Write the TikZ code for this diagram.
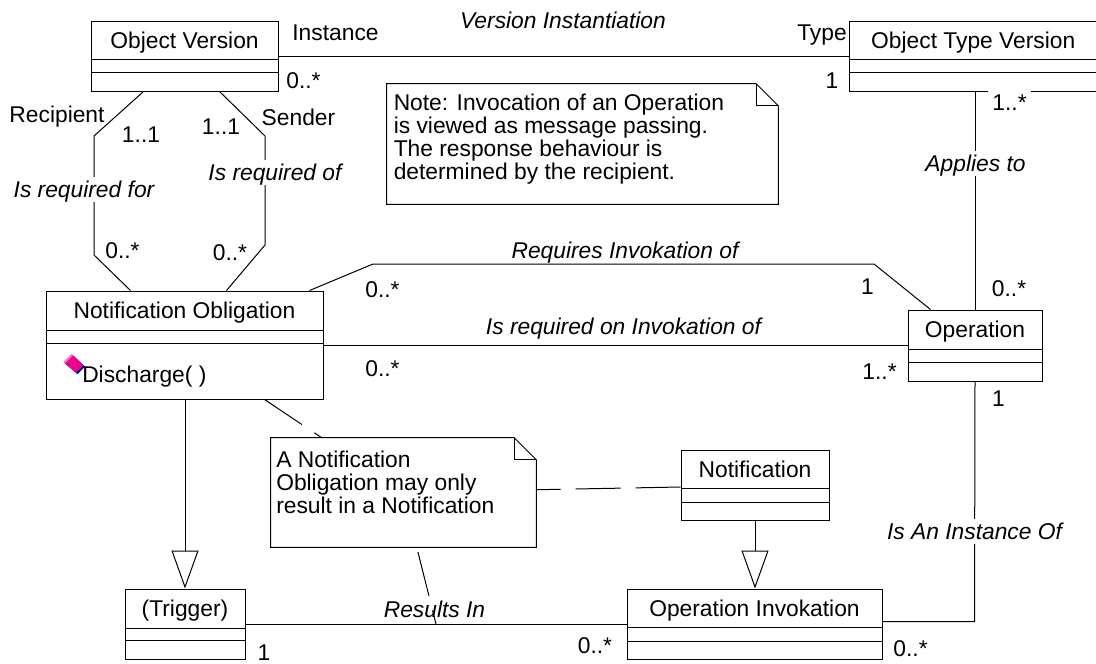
\documentclass[tikz,border=0pt]{standalone}
\usepackage{fontspec}
\setmainfont{Liberation Sans}
\usetikzlibrary{arrows.meta,calc,fit}

% UML class: name, x1, y1, x2, y2, title, first separator y, second separator y
\newcommand\umlclass[8]{%
  \coordinate (#1-nw) at (#2,#3);
  \coordinate (#1-se) at (#4,#5);
  \node[classbox, fit=(#1-nw)(#1-se)] (#1) {};
  \node[lbl] (#1-name) at ($(#2,#3)!0.5!(#4,#7)$) {#6};
  \draw[assoc] (#2,#7) -- (#4,#7);
  \draw[assoc] (#2,#8) -- (#4,#8);
}
% UML note with folded corner: name, x1, y1, x2, y2
\newcommand\umlnote[5]{%
  \coordinate (#1-nw) at (#2,#3);
  \coordinate (#1-se) at (#4,#5);
  \node[inner sep=0pt, fit=(#1-nw)(#1-se)] (#1) {};
  \draw[assoc] (#1.north west) -- ($(#1.north east)+(-22,0)$) -- ($(#1.north east)+(0,22)$)
    -- (#1.south east) -- (#1.south west) -- cycle;
  \draw[assoc] ($(#1.north east)+(-22,0)$) |- ($(#1.north east)+(0,22)$);
}

\begin{document}
\begin{tikzpicture}[x=0.75pt,y=-0.75pt,
  classbox/.style={draw, inner sep=0pt, line width=0.75pt},
  assoc/.style={line width=0.75pt},
  lbl/.style={font=\fontsize{17.1}{17.5}\selectfont, inner sep=3pt, text height=12.2pt, text depth=0pt},
  lblw/.style={lbl, fill=white},
  ilbl/.style={lbl, font=\fontsize{17.1}{17.5}\selectfont\itshape},
  ilblw/.style={ilbl, fill=white},
  notetext/.style={font=\fontsize{17.1}{16.5}\selectfont, inner sep=0pt, anchor=base west},
  anchorline/.style={line width=0.75pt, dash pattern=on 33.75pt off 11.25pt},
  gen/.style={line width=0.75pt, -{Triangle[fill=white, length=28.5pt, width=20.25pt]}}
]
\fill[white] (0,0) rectangle (1096,664);
\useasboundingbox (0,0) rectangle (1096,664);

% classes
\umlclass{ov}{91}{21}{278}{91}{Object Version}{59}{72}
\umlclass{otv}{849}{21}{1097.5}{91}{Object Type Version}{59}{72}
\umlclass{no}{46}{291}{323}{399}{Notification Obligation}{330}{343}
\umlclass{op}{908}{310}{1042}{381}{Operation}{349}{362}
\umlclass{notif}{681}{450}{829}{520}{Notification}{488}{502}
\umlclass{oi}{627}{589}{882}{659}{Operation Invokation}{627}{641}
\umlclass{trig}{125}{589}{245}{659}{(Trigger)}{628}{640}

% operation of Notification Obligation (public operation icon)
\fill[blue!45!black] (65,363.5) -- (73,355.5) -- (85,366.5) -- (77.5,374) -- cycle;
\fill[magenta] (63.5,362) -- (71.5,354) -- (83.5,365) -- (76,372.5) -- cycle;
\fill[magenta!50!white] (63.5,362) -- (71.5,354) -- (73,355.4) -- (65,363.4) -- cycle;
\node[lbl, anchor=west] (no-op) at (78,374) {Discharge( )};

% notes
\umlnote{note1}{387}{84}{778}{204}
\node[notetext] (note1-text) at (393.5,110) {\begin{tabular}[t]{@{}l@{}}Note: Invocation of an Operation\\
  is viewed as message passing.\\ The response behaviour is\\ determined by the recipient.\end{tabular}};
\umlnote{note2}{271}{438}{536}{547}
\node[notetext] (note2-text) at (276,467) {\begin{tabular}[t]{@{}l@{}}A Notification\\
  Obligation may only\\ result in a Notification\end{tabular}};

% associations
\draw[assoc] (ov.east) -- (ov.east -| otv.west);
\draw[assoc] ($(ov.south west)+(53,0)$) -- (94,136) -- (94,255) -- ($(no.north west)+(85,0)$);
\draw[assoc] ($(ov.south west)+(129,0)$) -- (265,136) -- (265,245) -- ($(no.north west)+(181,0)$);
\draw[assoc] (op.north) -- (op.north |- otv.south);
\draw[assoc] ($(no.north west)+(264,0)$) -- (373,264) -- (874,264) -- ($(op.north west)+(23,0)$);
\draw[assoc] (no.east) -- (no.east -| op.west);
\draw[assoc] (op.south) -- ($(oi.north east)+(92,33)$) -- ($(oi.north east)+(0,33)$);
\draw[assoc] (trig.east) -- (oi.west);
\coordinate (resultsin) at ($(trig.east)!0.5!(oi.west)$);

% generalizations
\draw[gen] (trig.north |- no.south) -- (trig.north);
\draw[gen] (notif.south) -- (notif.south |- oi.north);

% note anchors
\draw[anchorline] ($(no.south west)+(219,0)$) -- ($(note2.north west)+(51,0)$);
\draw[anchorline] ($(notif.north west)+(0,37.5)$) -- ($(note2.north east)+(0,52)$);
\draw[anchorline, dash phase=41.25pt] ($(note2.south west)+(146,0)$) -- (resultsin);

% association names, roles and multiplicities
\node[lbl] (l1) at (335.5,32) {Instance};
\node[ilbl] (l2) at (563,20.5) {Version Instantiation};
\node[lbl] (l3) at (822,32) {Type};
\node[lbl] (l4) at (303.5,80.5) {0..*};
\node[lbl] (l5) at (832,80) {1};
\node[lblw] (l6) at (1009.5,102.5) {1..*};
\node[ilblw] (l7) at (975.5,163.5) {Applies to};
\node[lbl] (l8) at (57,114.5) {Recipient};
\node[lbl] (l9) at (141,134.5) {1..1};
\node[lbl] (l10) at (221,126.5) {1..1};
\node[lbl] (l11) at (298.5,117.5) {Sender};
\node[ilblw] (l12) at (275,172.5) {Is required of};
\node[ilblw] (l13) at (84,189.5) {Is required for};
\node[lbl] (l14) at (122.5,250.5) {0..*};
\node[lbl] (l15) at (230,252.5) {0..*};
\node[lbl] (l16) at (382.5,289) {0..*};
\node[lbl] (l17) at (382.5,368) {0..*};
\node[ilbl] (l18) at (625,250) {Requires Invokation of};
\node[ilbl] (l19) at (623.5,326) {Is required on Invokation of};
\node[lbl] (l20) at (867.5,286) {1};
\node[lbl] (l21) at (1009,288.5) {0..*};
\node[lbl] (l22) at (879.5,371) {1..*};
\node[lbl] (l23) at (998.5,398) {1};
\node[ilblw] (l24) at (974.5,531.5) {Is An Instance Of};
\node[lbl] (l25) at (910.5,648) {0..*};
\node[ilbl] (l26) at (434.5,609) {Results In};
\node[lbl] (l27) at (595,645.5) {0..*};
\node[lbl] (l28) at (264,652.5) {1};
\end{tikzpicture}
\end{document}
